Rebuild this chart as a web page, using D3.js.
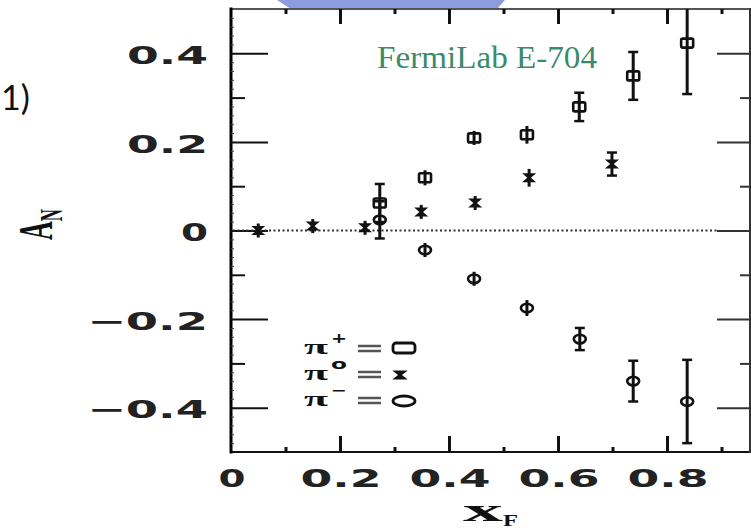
<!DOCTYPE html>
<html><head><meta charset="utf-8">
<script src="https://cdn.jsdelivr.net/npm/d3@7"></script>
<style>body{margin:0;background:#fff;overflow:hidden}</style>
</head><body>
<svg id="c" width="751" height="530"></svg>
<script>
// ---- data ----
const seriesNames = ["π+", "π0", "π−"];
const seriesSup = ["+", "o", "−"];
const xPlus  = [0.273, 0.356, 0.446, 0.543, 0.639, 0.738, 0.837];
const aPlus  = [0.062, 0.119, 0.209, 0.216, 0.279, 0.349, 0.423];
const ePlus  = [0.043, 0.017, 0.012, 0.020, 0.032, 0.054, 0.115];
const xZero  = [0.050, 0.150, 0.246, 0.349, 0.448, 0.547, 0.699];
const aZero  = [0.000, 0.010, 0.006, 0.042, 0.062, 0.119, 0.150];
const eZero  = [0.005, 0.005, 0.005, 0.008, 0.013, 0.020, 0.026];
const xMinus = [0.273, 0.356, 0.446, 0.543, 0.640, 0.738, 0.837];
const aMinus = [0.024, -0.044, -0.109, -0.175, -0.245, -0.340, -0.386];
const eMinus = [0.042, 0.015, 0.010, 0.018, 0.025, 0.046, 0.094];
const yMajorTicks = [-0.4, -0.2, 0, 0.2, 0.4];
const yTickLabels = ["−0.4", "−0.2", "0", "0.2", "0.4"];
const yMinorTicks = [-0.3, -0.1, 0.1, 0.3];
const xMajorTicks = [0, 0.2, 0.4, 0.6, 0.8];
const xTickLabels = ["0", "0.2", "0.4", "0.6", "0.8"];
const xMinorTicks = [0.1, 0.3, 0.5, 0.7, 0.9];
const title = "FermiLab E-704";

// ---- layout ----
const svg = d3.select("#c");
const x = d3.scaleLinear().domain([0, 1]).range([231, 776]);
const y = d3.scaleLinear().domain([-0.5, 0.5]).range([452, 9]);
const xR = 750, yT = 9, yB = 452, xL = 231;

// slide fragment
svg.append("text").attr("x", 1).attr("y", 110)
  .attr("font-family", "Lato, 'Open Sans', sans-serif").attr("font-size", 34).attr("fill", "#111").text("1)");

// blue shape at top
svg.append("path").attr("d", "M277,0 L505,0 L497,9 L291,9 Z").attr("fill", "#8d9cdc");

// frame
const frame = svg.append("g").attr("stroke-linecap", "square");
frame.append("line").attr("x1", xL).attr("x2", xR).attr("y1", yT).attr("y2", yT).attr("stroke", "#555").attr("stroke-width", 2);
frame.append("line").attr("x1", xL).attr("x2", xR).attr("y1", yB).attr("y2", yB).attr("stroke", "#111").attr("stroke-width", 2);
frame.append("line").attr("x1", xR).attr("x2", xR).attr("y1", yT).attr("y2", yB).attr("stroke", "#333").attr("stroke-width", 2);
frame.append("line").attr("x1", xL).attr("x2", xL).attr("y1", yT).attr("y2", yB).attr("stroke", "#000").attr("stroke-width", 3);

function axisG(gen, tx, ty, w, col) {
  const g = svg.append("g").attr("transform", `translate(${tx},${ty})`).call(gen);
  g.select(".domain").remove();
  g.selectAll(".tick line").attr("stroke", col || "#111").attr("stroke-width", w);
  g.selectAll(".tick text").remove();
  return g;
}
// left axis ticks (inward)
axisG(d3.axisRight(y).tickValues(d3.range(-0.48, 0.5, 0.02)).tickSize(3).tickFormat(""), xL, 0, 1, "#444");
axisG(d3.axisRight(y).tickValues(yMinorTicks).tickSize(14).tickFormat(""), xL, 0, 2);
axisG(d3.axisRight(y).tickValues(yMajorTicks).tickSize(37).tickFormat(""), xL, 0, 2);
// right axis
axisG(d3.axisLeft(y).tickValues(yMinorTicks).tickSize(10).tickFormat(""), xR, 0, 2, "#333");
axisG(d3.axisLeft(y).tickValues(yMajorTicks).tickSize(33).tickFormat(""), xR, 0, 2, "#333");
// bottom axis
axisG(d3.axisTop(x).tickValues(xMinorTicks).tickSize(5).tickFormat(""), 0, yB, 3);
axisG(d3.axisTop(x).tickValues(xMajorTicks.slice(1)).tickSize(16).tickFormat(""), 0, yB, 3);
// top axis
axisG(d3.axisBottom(x).tickValues(xMinorTicks).tickSize(5).tickFormat(""), 0, yT, 3);
axisG(d3.axisBottom(x).tickValues(xMajorTicks.slice(1)).tickSize(15).tickFormat(""), 0, yT, 3);

// zero dotted line
svg.append("line").attr("x1", x(0) + 2).attr("x2", 717).attr("y1", y(0)).attr("y2", y(0))
  .attr("stroke", "#333").attr("stroke-width", 2).attr("stroke-dasharray", "2,2.5");

// tick labels
const lblFont = "'DejaVu Sans', sans-serif";
function lenFor(s) { return s === "0" ? 27 : (s.startsWith("−") ? 121 : 81); }
svg.append("g").selectAll("text").data(yMajorTicks).join("text")
  .attr("x", 208).attr("y", d => y(d) + 2).attr("dy", "0.36em").attr("text-anchor", "end")
  .attr("font-family", lblFont).attr("font-weight", "bold").attr("font-size", 24).attr("fill", "#222")
  .attr("textLength", (d, i) => lenFor(yTickLabels[i]))
  .attr("lengthAdjust", "spacingAndGlyphs")
  .text((d, i) => yTickLabels[i]);
svg.append("g").selectAll("text").data(xMajorTicks).join("text")
  .attr("x", d => x(d) + 1).attr("y", 478).attr("dy", "0.36em").attr("text-anchor", "middle")
  .attr("font-family", lblFont).attr("font-weight", "bold").attr("font-size", 24).attr("fill", "#222")
  .attr("textLength", (d, i) => lenFor(xTickLabels[i])).attr("lengthAdjust", "spacingAndGlyphs")
  .text((d, i) => xTickLabels[i]);

// axis titles
const xt = svg.append("text").attr("x", 463).attr("y", 521)
  .attr("font-family", "'Liberation Serif', serif").attr("font-weight", "bold").attr("font-size", 32).attr("fill", "#111");
xt.append("tspan").attr("textLength", 40).attr("lengthAdjust", "spacingAndGlyphs").text("x");
xt.append("tspan").attr("font-size", 17).attr("dy", 5).attr("textLength", 15).attr("lengthAdjust", "spacingAndGlyphs").text("F");
const yt = svg.append("text").attr("transform", "translate(52,240) scale(1.9,1) rotate(-90)")
  .attr("font-family", "'Liberation Serif', serif").attr("font-weight", "bold").attr("font-size", 26).attr("fill", "#111");
yt.append("tspan").text("A");
yt.append("tspan").attr("font-size", 17).attr("dy", 5).text("N");

// title
svg.append("text").attr("x", 377).attr("y", 68).attr("font-family", "'Liberation Serif', serif")
  .attr("font-size", 31).attr("fill", "#3a8a6c").attr("textLength", 220).attr("lengthAdjust", "spacingAndGlyphs").text(title);

// ---- data marks ----
const plot = svg.append("g");
const defs = svg.append("defs");
defs.append("clipPath").attr("id", "clip").append("rect").attr("x", xL).attr("y", yT).attr("width", xR - xL).attr("height", yB - yT);
plot.attr("clip-path", "url(#clip)");

const series = [
  { xs: xPlus, as: aPlus, es: ePlus, shape: "rect" },
  { xs: xZero, as: aZero, es: eZero, shape: "bow" },
  { xs: xMinus, as: aMinus, es: eMinus, shape: "ell" }
];
const bow = "M-7,-4.5 L7,-4.5 L1.8,0 L7,4.5 L-7,4.5 L-1.8,0 Z";
series.forEach(s => {
  const pts = s.xs.map((v, i) => ({ x: v, a: s.as[i], e: s.es[i] }));
  const g = plot.append("g");
  pts.forEach(p => {
    const cx = x(p.x), cy = y(p.a);
    const half = Math.max(y(p.a - p.e) - cy, 7);
    g.append("line").attr("x1", cx).attr("x2", cx).attr("y1", cy - half).attr("y2", cy + half)
      .attr("stroke", "#111").attr("stroke-width", 3);
    if (half > 9) {
      [cy - half, cy + half].forEach(yy => g.append("line").attr("x1", cx - 5).attr("x2", cx + 5)
        .attr("y1", yy).attr("y2", yy).attr("stroke", "#111").attr("stroke-width", 2.5));
    }
  });
  pts.forEach(p => {
    const cx = x(p.x), cy = y(p.a);
    if (s.shape === "rect") {
      g.append("rect").attr("x", cx - 6).attr("y", cy - 4.5).attr("width", 12).attr("height", 9).attr("rx", 1.5)
        .attr("fill", "none").attr("stroke", "#111").attr("stroke-width", 2.6);
    } else if (s.shape === "ell") {
      g.append("ellipse").attr("cx", cx).attr("cy", cy).attr("rx", 6).attr("ry", 4.3)
        .attr("fill", "none").attr("stroke", "#111").attr("stroke-width", 2.6);
    } else {
      g.append("path").attr("transform", `translate(${cx},${cy})`).attr("d", bow).attr("fill", "#111");
    }
  });
});

// ---- legend ----
const legY = [348, 374, 400];
const leg = svg.append("g").attr("font-family", "'Liberation Serif', serif").attr("font-weight", "bold").attr("fill", "#111");
seriesNames.forEach((n, i) => {
  const yy = legY[i];
  leg.append("text").attr("x", 304).attr("y", yy + 6).attr("font-size", 22).attr("textLength", 24)
    .attr("lengthAdjust", "spacingAndGlyphs").text("π");
  leg.append("text").attr("x", 339).attr("y", yy - 5).attr("text-anchor", "middle").attr("font-family", lblFont)
    .attr("font-size", 14).attr("textLength", 16).attr("lengthAdjust", "spacingAndGlyphs").text(seriesSup[i]);
  leg.append("line").attr("x1", 358).attr("x2", 381).attr("y1", yy - 2).attr("y2", yy - 2).attr("stroke", "#555").attr("stroke-width", 2.5);
  leg.append("line").attr("x1", 358).attr("x2", 381).attr("y1", yy + 3).attr("y2", yy + 3).attr("stroke", "#555").attr("stroke-width", 2.5);
  const cx = 404;
  if (i === 0) {
    leg.append("rect").attr("x", cx - 11).attr("y", yy - 5).attr("width", 22).attr("height", 10).attr("rx", 3)
      .attr("fill", "none").attr("stroke", "#111").attr("stroke-width", 2.8);
  } else if (i === 1) {
    leg.append("path").attr("transform", `translate(${cx - 4},${yy + 1}) scale(1.1,1)`).attr("d", bow).attr("fill", "#111");
  } else {
    leg.append("ellipse").attr("cx", cx).attr("cy", yy + 1).attr("rx", 11).attr("ry", 5)
      .attr("fill", "none").attr("stroke", "#111").attr("stroke-width", 2.8);
  }
});
</script>
</body></html>
